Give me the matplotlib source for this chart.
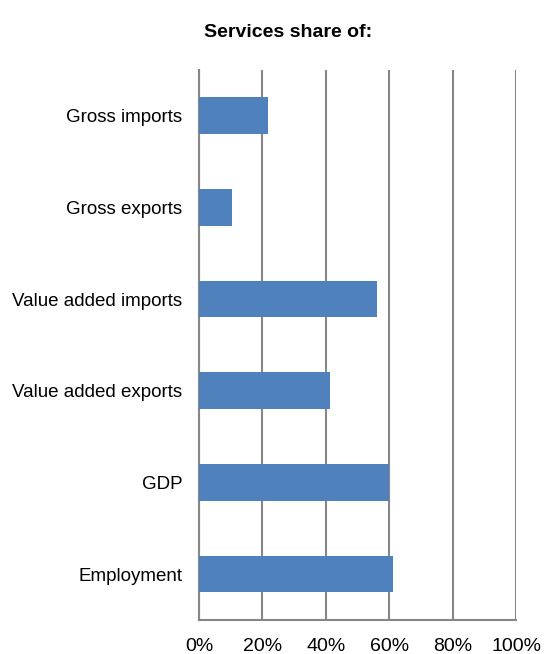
import matplotlib.pyplot as plt
from matplotlib.ticker import PercentFormatter

plt.rcParams['font.family'] = ['Liberation Sans', 'DejaVu Sans']

# Services share of each measure (%)
categories = ['Gross imports', 'Gross exports', 'Value added imports',
              'Value added exports', 'GDP', 'Employment']
shares = [21.8, 10.4, 56.2, 41.3, 59.9, 61.2]

fig = plt.figure(figsize=(5.45, 6.54), dpi=100)
ax = fig.add_axes([0.365, 0.052, 0.582, 0.841])

ax.barh(range(len(categories)), shares, height=0.4, color='#4F81BD', zorder=3)

ax.set_xlim(0, 100)
ax.set_ylim(5.5, -0.5)
ax.set_xticks(range(0, 101, 20))
ax.xaxis.set_major_formatter(PercentFormatter(decimals=0))
ax.set_yticks(range(len(categories)))
ax.set_yticklabels(categories)
ax.grid(axis='x', color='#868686', linewidth=1.5, zorder=0)
ax.tick_params(axis='x', length=0, pad=13, labelsize=14)
ax.tick_params(axis='y', length=0, pad=12, labelsize=13.5)

for side in ['top', 'right']:
    ax.spines[side].set_visible(False)
for side in ['left', 'bottom']:
    ax.spines[side].set_color('#868686')
    ax.spines[side].set_linewidth(1.5)

fig.text(0.528, 0.951, 'Services share of:', ha='center', va='center',
         fontsize=14, fontweight='bold')

plt.savefig('out.png')
